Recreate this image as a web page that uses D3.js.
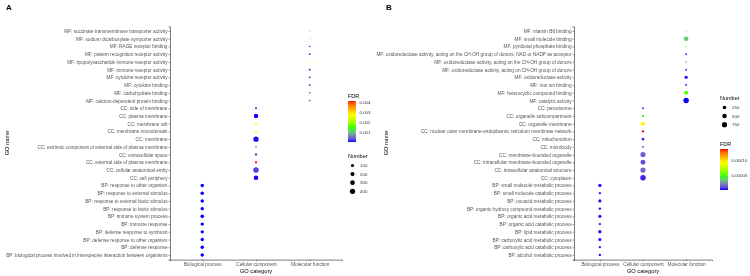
<!DOCTYPE html>
<html lang="en">
<head>
<meta charset="UTF-8">
<title>GO enrichment bubble charts</title>
<script src="https://cdn.jsdelivr.net/npm/d3@7"></script>
<style>
    body { margin: 0; background: #fff; }
    svg { display: block; font-family: "Liberation Sans", Arial, sans-serif; will-change: transform; }
    text { opacity: 0.999; }
    .tick-label { fill: #555; font-size: 4.72px; }
    .axis-title { fill: #000; font-size: 5.7px; }
    .legend-title { fill: #000; font-size: 5.5px; }
    .legend-label { fill: #333; font-size: 4.4px; }
    .panel-tag { fill: #000; font-size: 8px; font-weight: bold; }
</style>
</head>
<body>
<svg id="chart" width="750" height="276"></svg>
<script>
    // categories on the x axis
    let categories = ["Biological process", "Cellular component", "Molecular function"];

    // ---- panel A (top to bottom as shown) ----
    let namesA = [
        "MF: succinate transmembrane transporter activity",
        "MF: sodium dicarboxylate symporter activity",
        "MF: RAGE receptor binding",
        "MF: pattern recognition receptor activity",
        "MF: lipopolysaccharide immune receptor activity",
        "MF: immune receptor activity",
        "MF: cytokine receptor activity",
        "MF: cytokine binding",
        "MF: carbohydrate binding",
        "MF: calcium-dependent protein binding",
        "CC: side of membrane",
        "CC: plasma membrane",
        "CC: membrane raft",
        "CC: membrane microdomain",
        "CC: membrane",
        "CC: extrinsic component of external side of plasma membrane",
        "CC: extracellular space",
        "CC: external side of plasma membrane",
        "CC: cellular anatomical entity",
        "CC: cell periphery",
        "BP: response to other organism",
        "BP: response to external stimulus",
        "BP: response to external biotic stimulus",
        "BP: response to biotic stimulus",
        "BP: immune system process",
        "BP: immune response",
        "BP: defense response to symbiont",
        "BP: defense response to other organism",
        "BP: defense response",
        "BP: biological process involved in interspecies interaction between organisms"
    ];
    let numberA = [2, 2, 5, 7, 3, 10, 12, 13, 16, 7,
                   30, 260, 22, 22, 400, 6, 40, 25, 450, 280,
                   120, 128, 120, 122, 135, 118, 112, 115, 120, 122];
    let fdrA = [0.0013, 0.0017, 0.0001, 0.0001, 0.0026, 0.00005, 0.0001, 0.0001, 0.0008, 0.0003,
                0.0003, 0.00001, 0.0027, 0.0027, 0.00002, 0.0003, 0.0003, 0.0041, 0.0002, 0.00001,
                0.000001, 0.000002, 0.000001, 0.000001, 0.0, 0.000001, 0.000003, 0.000002, 0.000001, 0.000001];
    let fdrTicksA = [0.001, 0.002, 0.003, 0.004];
    let numberTicksA = [100, 200, 300, 400];

    // ---- panel B ----
    let namesB = [
        "MF: vitamin B6 binding",
        "MF: small molecule binding",
        "MF: pyridoxal phosphate binding",
        "MF: oxidoreductase activity, acting on the CH-OH group of donors, NAD or NADP as acceptor",
        "MF: oxidoreductase activity, acting on the CH-OH group of donors",
        "MF: oxidoreductase activity, acting on CH-OH group of donors",
        "MF: oxidoreductase activity",
        "MF: iron ion binding",
        "MF: heterocyclic compound binding",
        "MF: catalytic activity",
        "CC: peroxisome",
        "CC: organelle subcompartment",
        "CC: organelle membrane",
        "CC: nuclear outer membrane-endoplasmic reticulum membrane network",
        "CC: mitochondrion",
        "CC: microbody",
        "CC: membrane-bounded organelle",
        "CC: intracellular membrane-bounded organelle",
        "CC: intracellular anatomical structure",
        "CC: cytoplasm",
        "BP: small molecule metabolic process",
        "BP: small molecule catabolic process",
        "BP: oxoacid metabolic process",
        "BP: organic hydroxy compound metabolic process",
        "BP: organic acid metabolic process",
        "BP: organic acid catabolic process",
        "BP: lipid metabolic process",
        "BP: carboxylic acid metabolic process",
        "BP: carboxylic acid catabolic process",
        "BP: alcohol metabolic process"
    ];
    let numberB = [8, 560, 8, 30, 15, 35, 240, 40, 370, 830,
                   35, 55, 380, 55, 100, 25, 720, 620, 760, 850,
                   200, 60, 180, 70, 190, 55, 220, 180, 55, 60];
    let fdrB = [0.00005, 0.000035, 0.00005, 0.000005, 0.00004, 0.000005, 0.000002, 0.000005, 0.000052, 0.0000002,
                0.000005, 0.000048, 0.000095, 0.00014, 0.000003, 0.000005, 0.000013, 0.00001, 0.000015, 0.000003,
                0.000001, 0.000001, 0.000001, 0.000001, 0.000001, 0.000001, 0.000001, 0.000001, 0.000001, 0.0];
    let fdrTicksB = [0.00005, 0.00010];
    let numberTicksB = [250, 500, 750];

    let svg = d3.select("#chart");
    let gradColors = ["blue", "#00ff00", "yellow", "red"];
    let colorInterp = d3.piecewise(d3.interpolateLab, gradColors);

    function catOf(name) {
        let p = name.slice(0, 2);
        return p === "BP" ? categories[0] : p === "CC" ? categories[1] : categories[2];
    }

    // ggplot-like area size scale
    function makeSize(values) {
        let lo = d3.min(values), hi = d3.max(values);
        let r = d3.scaleLinear().domain([0, 1]).range([0.62, 2.75]);
        return v => r(Math.sqrt(Math.max(0, (v - lo) / (hi - lo))));
    }

    function drawPanel(opt) {
        let g = svg.append("g");
        let x = d3.scalePoint().domain(categories).range([opt.x0, opt.x1]).padding(0.6);
        let y = d3.scalePoint().domain(opt.names).range([opt.y0, opt.y1]).padding(0.6);
        let col = d3.scaleSequential(colorInterp).domain(d3.extent(opt.fdr));
        let size = makeSize(opt.number);

        // axes
        let yAxis = g.append("g").attr("transform", `translate(${opt.x0},0)`)
            .call(d3.axisLeft(y).tickSize(1.5).tickPadding(1));
        let xAxis = g.append("g").attr("transform", `translate(0,${opt.y1})`)
            .call(d3.axisBottom(x).tickSize(1.5).tickPadding(1.5));
        [xAxis, yAxis].forEach(a => {
            a.attr("font-family", null).attr("font-size", null);
            a.select(".domain").attr("stroke", "#222").attr("stroke-width", 0.6);
            a.selectAll(".tick line").attr("stroke", "#333").attr("stroke-width", 0.5);
            a.selectAll(".tick text").attr("class", "tick-label").attr("fill", null);
        });

        // points
        g.selectAll("circle.pt").data(opt.names).join("circle")
            .attr("class", "pt")
            .attr("cx", d => x(catOf(d)))
            .attr("cy", d => y(d))
            .attr("r", (d, i) => size(opt.number[i]))
            .attr("fill", (d, i) => col(opt.fdr[i]));

        // titles
        g.append("text").attr("class", "axis-title").attr("text-anchor", "middle")
            .attr("x", (opt.x0 + opt.x1) / 2).attr("y", 272.5).text("GO category");
        g.append("text").attr("class", "axis-title").attr("text-anchor", "middle")
            .attr("transform", `translate(${opt.yTitleX},${(opt.y0 + opt.y1) / 2}) rotate(-90)`)
            .text("GO name");
        g.append("text").attr("class", "panel-tag").attr("x", opt.tagX).attr("y", 10).text(opt.tag);

        // colour bar legend
        let cb = g.append("g").attr("transform", `translate(${opt.lx},${opt.fdrY})`);
        cb.append("text").attr("class", "legend-title").attr("y", -3.5).text("FDR");
        let barH = 41, barW = 8;
        let gid = "grad" + opt.tag;
        let grad = svg.append("defs").append("linearGradient").attr("id", gid)
            .attr("x1", 0).attr("y1", 1).attr("x2", 0).attr("y2", 0);
        d3.range(0, 1.0001, 0.05).forEach(t => {
            grad.append("stop").attr("offset", t).attr("stop-color", colorInterp(t));
        });
        cb.append("rect").attr("width", barW).attr("height", barH).attr("fill", `url(#${gid})`);
        let cy = d3.scaleLinear().domain(d3.extent(opt.fdr)).range([barH, 0]);
        opt.fdrTicks.forEach(t => {
            cb.append("line").attr("x1", 0).attr("x2", 1.6).attr("y1", cy(t)).attr("y2", cy(t))
                .attr("stroke", "#fff").attr("stroke-width", 0.4);
            cb.append("line").attr("x1", barW - 1.6).attr("x2", barW).attr("y1", cy(t)).attr("y2", cy(t))
                .attr("stroke", "#fff").attr("stroke-width", 0.4);
            cb.append("text").attr("class", "legend-label").attr("x", barW + 3.5).attr("y", cy(t) + 1.5)
                .text(opt.fdrFmt(t));
        });

        // size legend
        let sl = g.append("g").attr("transform", `translate(${opt.lx},${opt.numY})`);
        sl.append("text").attr("class", "legend-title").attr("y", -3.5).text("Number");
        opt.numTicks.forEach((t, i) => {
            let yy = 4.5 + i * 8.6;
            sl.append("circle").attr("cx", 4.5).attr("cy", yy).attr("r", size(t)).attr("fill", "#000");
            sl.append("text").attr("class", "legend-label").attr("x", 12).attr("y", yy + 1.5).text(t);
        });
    }

    drawPanel({
        tag: "A", tagX: 6, names: namesA, number: numberA, fdr: fdrA,
        x0: 170, x1: 342, y0: 26.4, y1: 259.6, yTitleX: 9,
        lx: 348, fdrY: 101, numY: 161,
        fdrTicks: fdrTicksA, fdrFmt: d3.format(".3f"), numTicks: numberTicksA
    });
    drawPanel({
        tag: "B", tagX: 386, names: namesB, number: numberB, fdr: fdrB,
        x0: 574, x1: 712, y0: 26.4, y1: 259.6, yTitleX: 388,
        lx: 720, fdrY: 149, numY: 103,
        fdrTicks: fdrTicksB, fdrFmt: d3.format(".5f"), numTicks: numberTicksB
    });
</script>
</body>
</html>
